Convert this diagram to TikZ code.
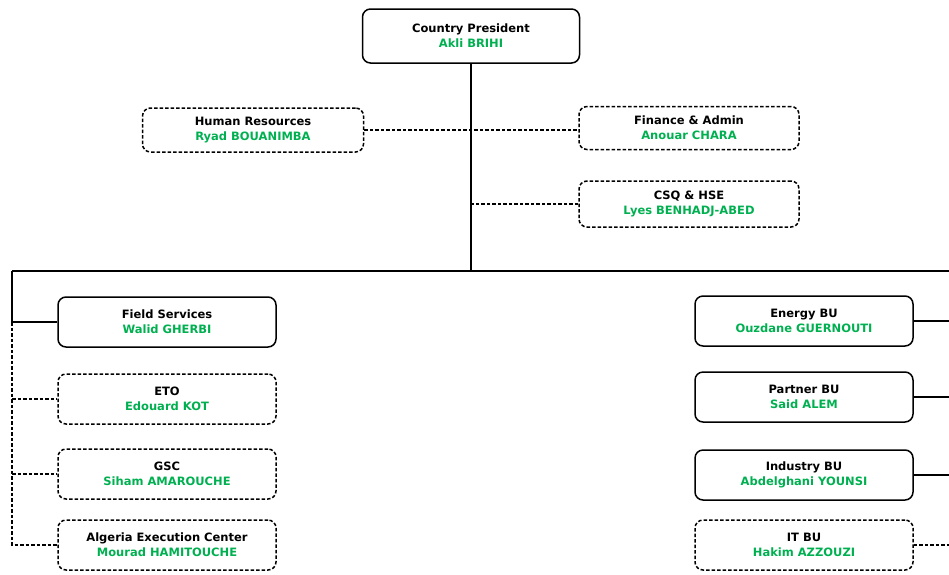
\documentclass[tikz,border=0pt]{standalone}
\usepackage{fontspec}
\setmainfont{DejaVu Sans}
\definecolor{namegreen}{RGB}{0,176,80}
\newcommand\unitlabel[2]{#1\\\textcolor{namegreen}{#2}}
\begin{document}
\begin{tikzpicture}[x=1pt,y=-1pt,
  unit/.style={draw, rounded corners=8pt, line width=1.5pt,
    minimum width=218pt, minimum height=50pt, align=center, inner sep=0pt,
    font=\bfseries\fontsize{11.5}{15}\selectfont},
  dashunit/.style={unit, dash pattern=on 3.5pt off 2pt},
  link/.style={line width=1.4pt},
  dlink/.style={line width=1.4pt, dash pattern=on 3.5pt off 2pt}]
\useasboundingbox (0,0) rectangle (949,574);

% head of the organisation
\node[unit, minimum width=217pt, minimum height=54pt] (pres) at (471,36)
  {\unitlabel{Country President}{Akli BRIHI}};

% staff functions
\node[dashunit, minimum width=221pt, minimum height=44pt] (hr) at (253,130)
  {\unitlabel{Human Resources}{Ryad BOUANIMBA}};
\node[dashunit, minimum width=220pt, minimum height=43pt] (fin) at (689,128)
  {\unitlabel{Finance \& Admin}{Anouar CHARA}};
\node[dashunit, minimum width=220pt, minimum height=46pt] (csq) at (689,204)
  {\unitlabel{CSQ \& HSE}{Lyes BENHADJ-ABED}};

% left column
\node[unit] (fs) at (167,322) {\unitlabel{Field Services}{Walid GHERBI}};
\node[dashunit] (eto) at (167,399) {\unitlabel{ETO}{Edouard KOT}};
\node[dashunit] (gsc) at (167,474) {\unitlabel{GSC}{Siham AMAROUCHE}};
\node[dashunit] (aec) at (167,545) {\unitlabel{Algeria Execution Center}{Mourad HAMITOUCHE}};

% right column
\node[unit] (energy) at (804,321) {\unitlabel{Energy BU}{Ouzdane GUERNOUTI}};
\node[unit] (partner) at (804,397) {\unitlabel{Partner BU}{Said ALEM}};
\node[unit] (industry) at (804,475) {\unitlabel{Industry BU}{Abdelghani YOUNSI}};
\node[dashunit] (itbu) at (804,545) {\unitlabel{IT BU}{Hakim AZZOUZI}};

% connectors
\coordinate (hub) at (471,271);
\coordinate (lt) at (12,271);
\coordinate (rt) at (949,271);

\draw[link] (pres) -- (hub);
\draw[dlink] (hr.east) -- (hr.east -| fin.west);
\draw[dlink] (csq.west) -- (csq.west -| hub);
\draw[link] (lt) -- (rt);

\draw[link] (lt) |- (fs.west);
\draw[dlink] (fs.west -| lt) |- (aec.west);
\draw[dlink] (eto.west -| lt) -- (eto.west);
\draw[dlink] (gsc.west -| lt) -- (gsc.west);

\draw[link] (energy.east) -- (energy.east -| rt);
\draw[link] (partner.east) -- (partner.east -| rt);
\draw[link] (industry.east) -- (industry.east -| rt);
\draw[dlink] (itbu.east) -- (itbu.east -| rt);
\end{tikzpicture}
\end{document}
